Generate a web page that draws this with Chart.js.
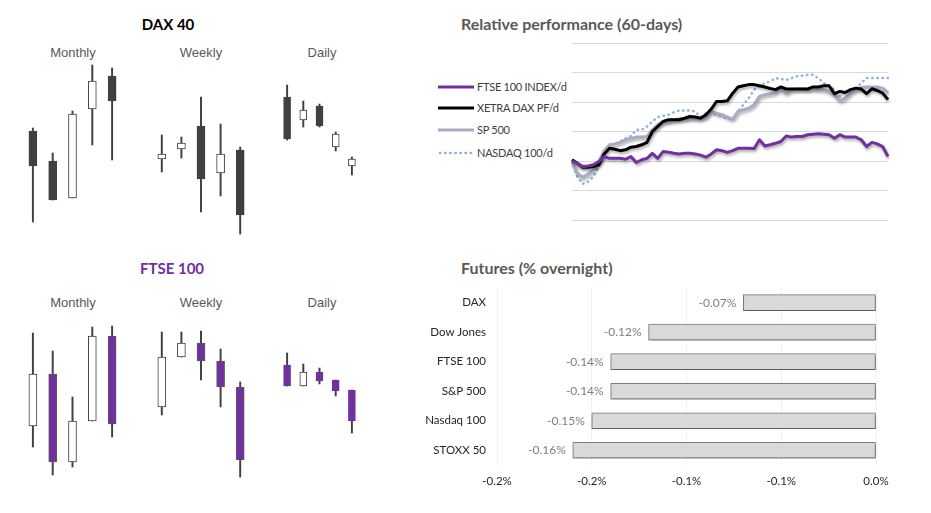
<!DOCTYPE html>
<html>
<head>
<meta charset="utf-8">
<script src="https://cdn.jsdelivr.net/npm/chart.js@4.4.1/dist/chart.umd.min.js"></script>
<style>
  html, body { margin:0; padding:0; background:#fff; }
  body { width:931px; height:513px; position:relative; overflow:hidden; }
  .abs { position:absolute; }
  .t { position:absolute; white-space:nowrap; height:20px; line-height:20px; }
  .ttl { font-family:Lato, "Open Sans", sans-serif; font-weight:700; font-size:15px; }
  .ttl2 { font-family:Lato, "Open Sans", sans-serif; font-weight:700; font-size:16px; }
  .sub { font-family:"Liberation Sans", Arial, sans-serif; font-size:13px; color:#595959; transform:translateX(-50%); }
  .leg { font-family:Lato, sans-serif; font-size:11px; letter-spacing:-0.25px; color:#404040; }
  .box { position:absolute; }
</style>
</head>
<body>
<!-- Titles -->
<div class="t ttl" style="left:168px; top:14px; color:#000; transform:translateX(-50%);">DAX 40</div>
<div class="t ttl" style="left:172px; top:258px; color:#7030a0; transform:translateX(-50%);">FTSE 100</div>
<div class="t ttl2" style="left:461px; top:14px; color:#595959;">Relative performance (60-days)</div>
<div class="t ttl2" style="left:461px; top:258px; color:#595959;">Futures (% overnight)</div>

<div class="t sub" style="left:73px; top:43px;">Monthly</div>
<div class="t sub" style="left:201px; top:43px;">Weekly</div>
<div class="t sub" style="left:322px; top:43px;">Daily</div>
<div class="t sub" style="left:73px; top:293px;">Monthly</div>
<div class="t sub" style="left:201px; top:293px;">Weekly</div>
<div class="t sub" style="left:322px; top:293px;">Daily</div>

<!-- Candle panels -->
<div class="box" style="left:23px; top:60px; width:99px; height:180px;"><canvas id="daxM"></canvas></div>
<div class="box" style="left:152px; top:60px; width:98px; height:180px;"><canvas id="daxW"></canvas></div>
<div class="box" style="left:279px; top:60px; width:81px; height:180px;"><canvas id="daxD"></canvas></div>
<div class="box" style="left:23px; top:310px; width:99px; height:180px;"><canvas id="ftM"></canvas></div>
<div class="box" style="left:152px; top:310px; width:98px; height:180px;"><canvas id="ftW"></canvas></div>
<div class="box" style="left:279px; top:310px; width:81px; height:180px;"><canvas id="ftD"></canvas></div>

<!-- Relative performance -->
<div id="legend"></div>
<div class="box" style="left:570px; top:40px; width:320px; height:184px;"><canvas id="perf"></canvas></div>

<!-- Futures -->
<div class="box" style="left:420px; top:270px; width:480px; height:225px;"><canvas id="fut"></canvas></div>

<script>
// ---------- Candles: [open, high, low, close] (relative price units) ----------
const daxMonthly = [[109,112,18,74],[79,87,40,40],[42,129,42,126],[131,175,95,159],[164,172,80,139]];
const daxWeekly  = [[81,105,68,86],[91,103,82,97],[114,143,28,61],[67,116,44,86],[90,93,6,25]];
const daxDaily   = [[143,155,100,101],[120,139,113,130],[134,136,113,114],[93,108,89,106],[74,83,65,81]];
const ftseMonthly = [[64,157,43,116],[116,139,15,28],[28,93,23,69],[69,163,69,154],[154,164,53,66]];
const ftseWeekly  = [[83,158,75,133],[133,158,133,147],[147,159,110,129],[129,141,83,103],[103,108,13,30]];
const ftseDaily   = [[125,137,104,104],[104,126,104,118],[118,122,106,109],[110,110,94,99],[100,100,57,69]];
const candleLabels = ['1','2','3','4','5'];

// ---------- Relative performance (60 days), in gridline units ----------
const perfLabels = Array.from({length:60}, (_, i) => 'D' + (i + 1));
const ftsePerf = [2.00,1.92,1.81,1.83,1.87,1.98,2.15,2.09,2.09,2.09,2.06,2.15,1.95,2.04,2.09,2.26,2.09,2.32,2.30,2.26,
  2.24,2.26,2.26,2.24,2.20,2.13,2.24,2.38,2.35,2.29,2.35,2.43,2.43,2.43,2.42,2.72,2.51,2.55,2.60,2.66,
  2.85,2.81,2.83,2.83,2.89,2.91,2.92,2.91,2.89,2.77,2.89,2.81,2.81,2.81,2.72,2.49,2.63,2.58,2.49,2.15];
const daxPerf = [2.04,1.92,1.79,1.79,1.81,1.87,2.24,2.43,2.40,2.35,2.38,2.47,2.49,2.55,2.63,3.00,3.17,3.34,3.40,3.40,
  3.40,3.45,3.51,3.49,3.45,3.57,3.76,4.02,4.02,4.04,4.30,4.51,4.55,4.59,4.59,4.55,4.51,4.46,4.42,4.51,
  4.44,4.44,4.44,4.44,4.44,4.51,4.51,4.55,4.55,4.28,4.36,4.32,4.42,4.47,4.44,4.28,4.45,4.39,4.30,4.08];
const spPerf = [1.98,1.58,1.45,1.56,1.70,1.98,2.35,2.55,2.58,2.63,2.72,2.77,2.81,2.81,2.83,3.06,3.23,3.34,3.34,3.40,
  3.42,3.42,3.45,3.45,3.45,3.49,3.68,3.62,3.57,3.49,3.42,3.68,3.74,3.79,3.91,4.19,4.25,4.28,4.32,4.44,
  4.30,4.42,4.44,4.44,4.42,4.44,4.42,4.42,4.36,4.25,4.05,4.13,4.30,4.42,4.49,4.51,4.51,4.51,4.47,4.32];
const ndxPerf = [1.98,1.47,1.22,1.30,1.47,1.81,2.32,2.55,2.58,2.66,2.77,2.85,3.06,3.06,3.17,3.34,3.49,3.53,3.57,3.65,
  3.71,3.71,3.71,3.68,3.49,3.62,3.62,3.57,3.51,3.45,3.40,3.68,3.91,4.13,4.42,4.53,4.64,4.70,4.81,4.78,
  4.75,4.81,4.87,4.89,4.92,4.92,4.81,4.64,4.55,4.42,4.19,4.13,4.30,4.47,4.64,4.81,4.81,4.81,4.81,4.81];
const perfSeriesNames = ['FTSE 100 INDEX/d','XETRA DAX PF/d','SP 500','NASDAQ 100/d'];

// ---------- Futures ----------
const futLabels = ['DAX','Dow Jones','FTSE 100','S&P 500','Nasdaq 100','STOXX 50'];
const futValues = [-0.07,-0.12,-0.14,-0.14,-0.15,-0.16];
const futTickLabels = ['-0.2%','-0.2%','-0.1%','-0.1%','0.0%'];

Chart.defaults.animation = false;
Chart.defaults.devicePixelRatio = 1;

function makeCandles(id, rows, style) {
  const up = rows.map(r => r[3] >= r[0]);
  new Chart(document.getElementById(id), {
    type: 'bar',
    data: {
      labels: candleLabels,
      datasets: [
        {
          data: rows.map(r => [Math.min(r[0], r[3]), Math.max(r[0], r[3])]),
          backgroundColor: up.map(u => u ? '#ffffff' : style.down),
          borderColor: up.map(u => u ? '#404040' : style.downBorder),
          borderWidth: 1,
          borderSkipped: false,
          barThickness: style.w,
          grouped: false
        },
        {
          data: rows.map(r => [r[2], r[1]]),
          backgroundColor: '#404040',
          borderWidth: 0,
          barThickness: 1.3,
          grouped: false
        }
      ]
    },
    options: {
      responsive: true,
      maintainAspectRatio: false,
      layout: { padding: 0 },
      plugins: { legend: { display: false }, tooltip: { enabled: false } },
      scales: {
        x: { display: false, offset: true },
        y: { display: false, min: 0, max: 180 }
      }
    }
  });
}

makeCandles('daxM', daxMonthly, { down: '#404040', downBorder: '#404040', w: 8 });
makeCandles('daxW', daxWeekly,  { down: '#404040', downBorder: '#404040', w: 8 });
makeCandles('daxD', daxDaily,   { down: '#404040', downBorder: '#404040', w: 7 });
makeCandles('ftM', ftseMonthly, { down: '#7030a0', downBorder: '#595959', w: 8 });
makeCandles('ftW', ftseWeekly,  { down: '#7030a0', downBorder: '#595959', w: 8 });
makeCandles('ftD', ftseDaily,   { down: '#7030a0', downBorder: '#7030a0', w: 7 });

// ---------- Performance chart ----------
const perfColors = ['#7030a0', '#000000', '#a9abc3', '#8fb4de'];
const legendYs = [87, 108, 130, 153];
const legendEl = document.getElementById('legend');
perfSeriesNames.forEach((name, i) => {
  const dotted = i === 3;
  const sw = `<svg class="abs" style="left:438px; top:${legendYs[i]-4}px;" width="38" height="8">
    <line x1="${dotted?2:0}" y1="4" x2="36" y2="4" stroke="${perfColors[i]}" stroke-width="${dotted?2.5:3}"
      ${dotted ? 'stroke-dasharray="0.5 4.6" stroke-linecap="round"' : ''}/></svg>`;
  legendEl.insertAdjacentHTML('beforeend', sw +
    `<div class="t leg" style="left:477px; top:${legendYs[i]-10}px;">${name}</div>`);
});

const shadowPlugin = {
  id: 'lineShadow',
  beforeDatasetDraw(chart, args) {
    const ctx = chart.ctx;
    ctx.save();
    if (chart.config.type === 'line' && args.index === 3) return;
    ctx.shadowColor = 'rgba(0,0,0,0.35)';
    ctx.shadowBlur = 3;
    ctx.shadowOffsetX = 1;
    ctx.shadowOffsetY = 2;
  },
  afterDatasetDraw(chart) { chart.ctx.restore(); }
};

new Chart(document.getElementById('perf'), {
  type: 'line',
  data: {
    labels: perfLabels,
    datasets: [
      { label: perfSeriesNames[0], data: ftsePerf, borderColor: perfColors[0], borderWidth: 3 },
      { label: perfSeriesNames[1], data: daxPerf,  borderColor: perfColors[1], borderWidth: 3 },
      { label: perfSeriesNames[2], data: spPerf,   borderColor: perfColors[2], borderWidth: 3 },
      { label: perfSeriesNames[3], data: ndxPerf,  borderColor: perfColors[3], borderWidth: 2.5,
        borderDash: [0.5, 4.6], borderCapStyle: 'round' }
    ]
  },
  options: {
    responsive: true,
    maintainAspectRatio: false,
    layout: { padding: { left: 2, right: 2, top: 3, bottom: 4 } },
    elements: { point: { radius: 0 }, line: { tension: 0, borderJoinStyle: 'round' } },
    plugins: { legend: { display: false }, tooltip: { enabled: false } },
    scales: {
      x: { display: false },
      y: {
        min: 0, max: 6,
        ticks: { display: false, stepSize: 1 },
        grid: { color: '#d9d9d9', drawTicks: false },
        border: { display: false }
      }
    }
  },
  plugins: [shadowPlugin]
});

// ---------- Futures chart ----------
const valueLabelPlugin = {
  id: 'valueLabels',
  afterDatasetsDraw(chart) {
    const ctx = chart.ctx;
    const meta = chart.getDatasetMeta(0);
    ctx.save();
    ctx.font = '12px Lato, sans-serif';
    ctx.fillStyle = '#7f7f7f';
    ctx.textAlign = 'right';
    ctx.textBaseline = 'middle';
    meta.data.forEach((bar, i) => {
      const v = chart.data.datasets[0].data[i];
      ctx.fillText(v.toFixed(2) + '%', bar.x - 7, bar.y);
    });
    ctx.restore();
  }
};

new Chart(document.getElementById('fut'), {
  type: 'bar',
  data: {
    labels: futLabels,
    datasets: [{
      data: futValues,
      backgroundColor: '#d9d9d9',
      borderColor: '#7f7f7f',
      borderWidth: 1,
      borderSkipped: false,
      barThickness: 16
    }]
  },
  options: {
    indexAxis: 'y',
    responsive: true,
    maintainAspectRatio: false,
    layout: { padding: { top: 0, right: 24, bottom: 0, left: 0 } },
    plugins: { legend: { display: false }, tooltip: { enabled: false } },
    scales: {
      x: {
        min: -0.2, max: 0,
        ticks: {
          stepSize: 0.05,
          padding: 9.5,
          color: '#262626',
          font: { family: 'Lato, sans-serif', size: 11.5 },
          callback: (v, i) => futTickLabels[i]
        },
        grid: { color: '#f2f2f2', drawTicks: false },
        border: { display: false },
        afterFit: s => { s.height = 30; }
      },
      y: {
        ticks: {
          padding: 11,
          color: '#262626',
          font: { family: 'Lato, sans-serif', size: 11.5 }
        },
        grid: { display: false, drawTicks: false },
        border: { display: false },
        afterFit: s => { s.width = 77; }
      }
    }
  },
  plugins: [shadowPlugin, valueLabelPlugin]
});
</script>
</body>
</html>
